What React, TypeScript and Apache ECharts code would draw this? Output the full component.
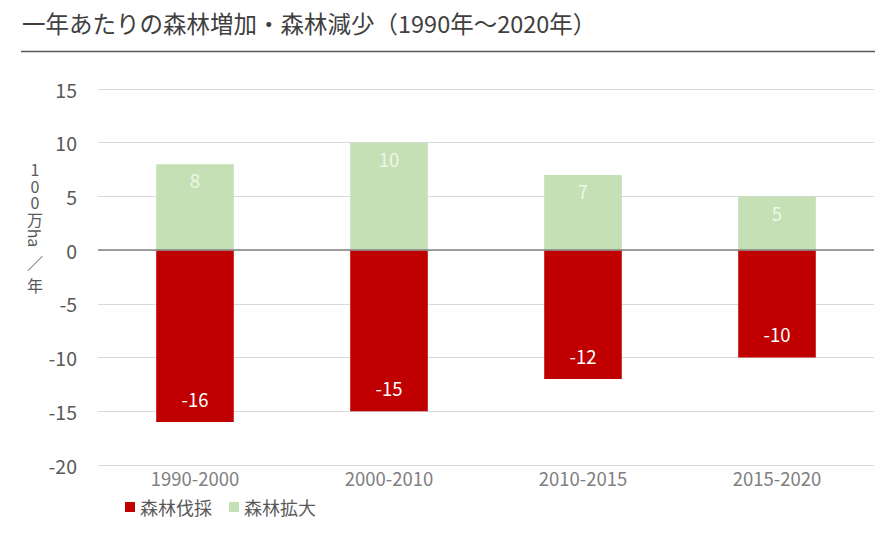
import React, { useEffect, useRef } from "react";
import * as echarts from "echarts";

const categories = ["1990-2000", "2000-2010", "2010-2015", "2015-2020"];
const deforestation = [-16, -15, -12, -10];
const expansion = [8, 10, 7, 5];
const seriesNames = ["森林伐採", "森林拡大"];
const title = "一年あたりの森林増加・森林減少（1990年～2020年）";

const FONT = "'Noto Sans CJK JP', 'Noto Sans', sans-serif";

export default function App() {
  const ref = useRef<HTMLDivElement>(null);
  useEffect(() => {
    if (!ref.current) return;
    const chart = echarts.init(ref.current, null, { renderer: "svg" });
    const axisNameParts = [
      { t: "1\n0\n0\n万", y: 194, r: 0, lh: 16.5 },
      { t: "ha", y: 238, r: -Math.PI / 2, lh: 16 },
      { t: "／\n年", y: 273.5, r: 0, lh: 23 },
    ];
    chart.setOption({
      animation: false,
      backgroundColor: "#ffffff",
      textStyle: { fontFamily: FONT },
      grid: { left: 98, right: 12, top: 89, bottom: 68, containLabel: false },
      xAxis: {
        type: "category",
        data: categories,
        axisLine: { show: false },
        axisTick: { show: false },
        axisLabel: { color: "#808080", fontSize: 18.5, margin: 4, fontFamily: FONT },
      },
      yAxis: {
        type: "value",
        min: -20,
        max: 15,
        interval: 5,
        axisLine: { show: false },
        axisTick: { show: false },
        axisLabel: { color: "#595959", fontSize: 19.5, margin: 21, fontFamily: FONT },
        splitLine: { lineStyle: { color: "#d9d9d9", width: 1 } },
      },
      legend: {
        data: seriesNames,
        left: 120,
        top: 493,
        itemWidth: 10,
        itemHeight: 10,
        itemGap: 17,
        icon: "rect",
        textStyle: { color: "#595959", fontSize: 18, fontFamily: FONT },
      },
      series: [
        {
          name: seriesNames[0],
          type: "bar",
          stack: "total",
          data: deforestation,
          barWidth: "40%",
          itemStyle: { color: "#c00000" },
          label: {
            show: true,
            position: "insideBottom",
            distance: 14,
            color: "#ffffff",
            fontSize: 18.5,
            fontFamily: FONT,
          },
          markLine: {
            silent: true,
            symbol: "none",
            label: { show: false },
            lineStyle: { color: "#808080", width: 1.5, type: "solid" },
            data: [{ yAxis: 0 }],
          },
        },
        {
          name: seriesNames[1],
          type: "bar",
          stack: "total",
          data: expansion,
          barWidth: "40%",
          itemStyle: { color: "#c5e0b4" },
          label: {
            show: true,
            position: "insideTop",
            distance: 7,
            color: "#eef7e8",
            fontSize: 18.5,
            fontFamily: FONT,
          },
        },
      ],
      graphic: [
        {
          type: "text",
          left: 22,
          top: 11,
          style: { text: title, fill: "#404040", fontSize: 23.5, fontFamily: FONT },
        },
        {
          type: "line",
          shape: { x1: 21, y1: 51.5, x2: 875, y2: 51.5 },
          style: { stroke: "#595959", lineWidth: 1.5 },
        },
        ...axisNameParts.map((p) => ({
          type: "text",
          x: 35,
          y: p.y,
          rotation: p.r,
          originX: 0,
          originY: 0,
          style: {
            text: p.t,
            fill: "#595959",
            fontSize: 16,
            lineHeight: p.lh,
            fontFamily: FONT,
            align: "center",
            verticalAlign: "middle",
          },
        })),
      ],
    });
    return () => chart.dispose();
  }, []);
  return (
    <div
      ref={ref}
      style={{ position: "fixed", left: 0, top: 0, width: 886, height: 533 }}
    />
  );
}
